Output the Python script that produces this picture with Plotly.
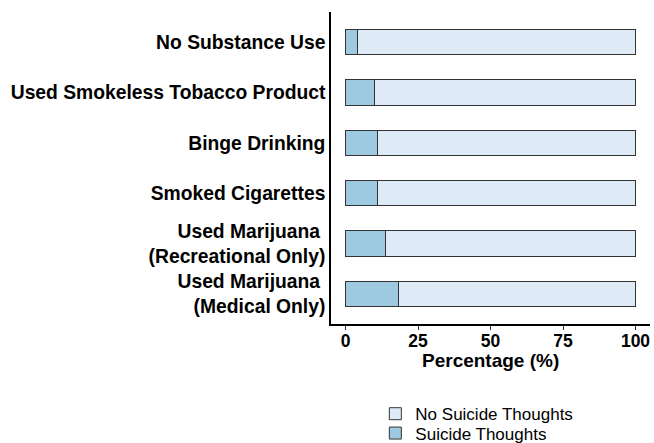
import plotly.graph_objects as go

categories = [
    "No Substance Use",
    "Used Smokeless Tobacco Product",
    "Binge Drinking",
    "Smoked Cigarettes",
    "Used Marijuana <br>(Recreational Only)",
    "Used Marijuana <br>(Medical Only)",
]
suicide_thoughts = [4.2, 9.9, 11.2, 11.2, 13.9, 18.3]
no_suicide_thoughts = [100 - v for v in suicide_thoughts]
x_ticks = [0, 25, 50, 75, 100]
x_title = "Percentage (%)"

FONT = "Liberation Sans, Arial, sans-serif"
line = dict(color="#333333", width=1)

fig = go.Figure()
fig.add_trace(go.Bar(
    y=categories, x=suicide_thoughts, orientation="h", name="Suicide Thoughts",
    marker=dict(color="#9ECAE1", line=line), width=0.5, legend="legend2",
))
fig.add_trace(go.Bar(
    y=categories, x=no_suicide_thoughts, orientation="h", name="No Suicide Thoughts",
    marker=dict(color="#DEEBF7", line=line), width=0.5, legend="legend",
))

legend_common = dict(
    xanchor="left", yanchor="middle",
    font=dict(size=17, color="black"),
    bgcolor="rgba(0,0,0,0)", borderwidth=0,
)

fig.update_layout(
    width=654, height=443,
    barmode="stack",
    plot_bgcolor="white", paper_bgcolor="white",
    margin=dict(l=330.5, r=3.5, t=11.8, b=118.6, autoexpand=False),
    font=dict(family=FONT, color="black", size=16),
    legend=dict(x=0.139, y=-0.289, **legend_common),
    legend2=dict(x=0.139, y=-0.351, **legend_common),
    showlegend=True,
    annotations=[dict(
        text=x_title, xref="paper", yref="paper", x=0.5, y=-0.118,
        xanchor="center", yanchor="middle", showarrow=False,
        font=dict(size=19, weight="bold", color="black"),
    )],
)
fig.update_xaxes(
    range=[-5, 105], tickvals=x_ticks, ticktext=[str(t) for t in x_ticks],
    showgrid=False, zeroline=False,
    showline=True, linecolor="black", linewidth=1.5,
    ticks="outside", ticklen=4, tickcolor="#333333", tickwidth=1,
    ticklabelstandoff=-4,
    tickfont=dict(size=17.5, weight="bold", color="black"),
)
fig.update_yaxes(
    categoryorder="array", categoryarray=categories,
    range=[5.6, -0.6],
    showgrid=False, zeroline=False,
    showline=True, linecolor="black", linewidth=1.5,
    ticks="",
    tickfont=dict(size=19.3, weight="bold", color="black"),
)

fig.write_html(
    "out.html",
    config={"displayModeBar": False},
    post_script="document.body.style.margin='0';document.body.style.overflow='hidden';",
)
